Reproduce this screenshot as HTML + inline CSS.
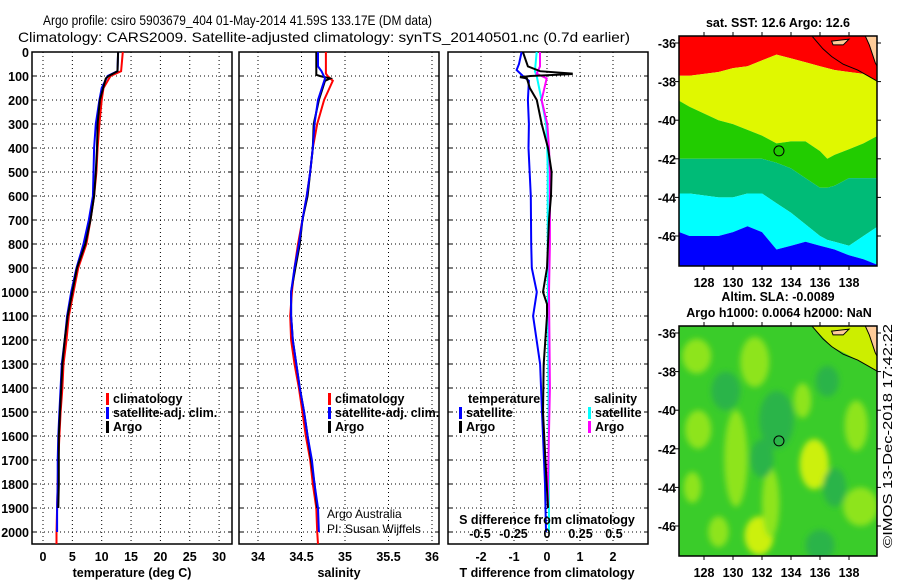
<!DOCTYPE html>
<html><head><meta charset="utf-8"><style>
html,body{margin:0;padding:0;background:#fff;}
svg{display:block;font-family:"Liberation Sans",sans-serif;}
.b{font-weight:bold;font-size:12.5px;}
</style></head><body>
<svg id="chart" width="900" height="580" viewBox="0 0 900 580" xmlns="http://www.w3.org/2000/svg">
<text x="43" y="25" font-size="14" textLength="389" lengthAdjust="spacingAndGlyphs">Argo profile: csiro 5903679_404 01-May-2014 41.59S 133.17E (DM data)</text>
<text x="18" y="42" font-size="14" textLength="612" lengthAdjust="spacingAndGlyphs">Climatology: CARS2009. Satellite-adjusted climatology: synTS_20140501.nc (0.7d earlier)</text>
<g id="panels"></g>
<g id="maps"></g>
<text transform="translate(892,548) rotate(-90)" font-size="12.5" textLength="224" lengthAdjust="spacingAndGlyphs">©IMOS 13-Dec-2018 17:42:22</text>
</svg>
<script>
// ---- data ----
const depthGrid = [0,100,200,300,400,500,600,700,800,900,1000,1100,1200,1300,1400,1500,1600,1700,1800,1900,2000];
const tempTicks = [0,5,10,15,20,25,30];
const salTicks = [34,34.5,35,35.5,36];
const salTickLabels = ["34","34.5","35","35.5","36"];
const tdiffTicks = [-2,-1,0,1,2];
const sdiffTickLabels = ["-0.5","-0.25","0","0.25","0.5"];
const sdiffTicks = [-0.5,-0.25,0,0.25,0.5];

const tClimDepth = [0,80,100,150,200,300,400,500,600,700,800,900,1000,1100,1200,1300,1400,1500,1600,1700,1800,1900,2000,2050];
const tClim = [13.6,13.3,11.5,10.3,10.0,9.6,9.3,9.1,8.7,8.1,7.4,6.0,5.2,4.4,4.0,3.5,3.3,3.0,2.8,2.6,2.5,2.4,2.3,2.3];
const tSatDepth = [0,80,100,150,200,300,400,500,600,700,800,900,1000,1100,1200,1300,1400,1500,1600,1700,1800,1900,2000];
const tSat = [12.8,12.7,11.0,10.0,9.6,9.0,8.7,8.6,8.5,7.8,6.9,5.7,4.8,4.1,3.7,3.2,3.0,2.8,2.6,2.5,2.5,2.4,2.4];
const tArgoDepth = [0,80,100,110,200,300,400,500,600,700,800,900,1000,1100,1200,1300,1400,1500,1600,1700,1800,1900];
const tArgo = [12.8,12.7,11.2,10.7,9.7,9.3,9.2,9.0,8.7,8.1,7.2,5.8,5.0,4.2,3.7,3.3,3.1,2.9,2.7,2.7,2.7,2.6];

const sClimDepth = [0,90,100,120,200,300,400,500,600,700,800,900,1000,1100,1200,1300,1400,1500,1600,1700,1800,1900,2000,2050];
const sClim = [34.78,34.78,34.80,34.86,34.76,34.68,34.63,34.60,34.56,34.51,34.46,34.42,34.39,34.37,34.38,34.42,34.47,34.51,34.55,34.60,34.63,34.67,34.68,34.69];
const sSatDepth = [0,60,80,110,200,300,400,500,600,700,800,900,1000,1100,1200,1300,1400,1500,1600,1700,1800,1900,2000];
const sSat = [34.69,34.69,34.73,34.77,34.69,34.65,34.63,34.60,34.56,34.51,34.47,34.42,34.38,34.38,34.40,34.44,34.48,34.53,34.57,34.62,34.65,34.69,34.70];
const sArgoDepth = [0,80,95,100,110,120,200,300,400,500,600,700,800,900,1000,1100,1200,1300,1400,1500,1600,1700,1800,1900];
const sArgo = [34.67,34.67,34.67,34.71,34.83,34.77,34.70,34.64,34.63,34.60,34.57,34.51,34.48,34.43,34.38,34.38,34.40,34.44,34.48,34.53,34.57,34.61,34.65,34.68];

const dTSatDepth = [0,50,75,100,120,200,300,400,600,800,900,1000,1100,1300,1500,1800,2000];
const dTSat = [-0.77,-0.85,-0.92,-0.73,-0.55,-0.58,-0.55,-0.56,-0.49,-0.48,-0.46,-0.31,-0.42,-0.21,-0.15,-0.06,-0.03];
const dTArgoDepth = [0,60,80,90,92,100,105,110,150,200,300,400,500,600,700,800,900,1000,1050,1100,1300,1500,1700,1900];
const dTArgo = [-0.73,-0.58,-0.21,0.75,0.75,-0.5,-0.82,-0.61,-0.52,-0.31,-0.16,0.03,0.14,0.12,0.06,0.03,0.0,-0.12,0.0,0.0,-0.1,-0.12,-0.05,0.03];
const dSSatDepth = [0,80,100,200,300,400,500,800,1000,1500,2000];
const dSSat = [-0.077,-0.09,-0.077,-0.04,-0.007,0.002,0.005,0.005,0.007,0.011,0.015];
const dSArgoDepth = [0,60,90,110,200,300,400,500,600,800,1000,1400,1800,1900];
const dSArgo = [-0.052,-0.052,-0.077,-0.002,-0.04,0.002,0.015,0.022,0.022,0.022,0.015,0.022,0.007,0.007];

// SST map band boundaries (lat) along longitude
const bandLon = [126.3,127,129,130,131,132,133,134,135,136,136.5,137,138,139,140];
const redYellow = [-37.7,-37.7,-37.5,-37.3,-37.2,-36.9,-36.6,-36.8,-37.0,-37.2,-37.3,-37.4,-37.5,-37.6,-38.0];
const yellowGreen = [-39.0,-39.3,-40.0,-40.2,-40.5,-40.8,-41.2,-41.1,-41.1,-41.6,-42.0,-41.8,-41.5,-41.2,-40.8];
const greenTeal = [-42.0,-42.0,-42.0,-42.0,-42.0,-42.0,-42.2,-42.5,-43.0,-43.5,-43.5,-43.4,-43.0,-43.0,-43.0];
const tealCyan = [-43.8,-43.8,-44.0,-44.0,-43.8,-43.8,-44.3,-44.8,-45.4,-46.0,-46.2,-46.3,-46.5,-46.0,-45.5];
const cyanBlue = [-45.8,-46.0,-46.0,-45.8,-45.5,-45.8,-46.7,-46.5,-46.3,-46.5,-46.6,-46.7,-47.0,-47.2,-47.5];
const bandColors = ["#ff0000","#e0f800","#22cc00","#00bb77","#00ffff","#0000ff"];
// SLA blobs: lon, lat, rx(deg), ry(deg), kind
const slaLon = [127.5,131.5,135.6,127.6,130.2,134.8,138.5,131.8,138.8,129.0,132.6,127.2,136.5,133.0,132.0,129.5,137.0,136.0];
const slaLat = [-37.2,-37.5,-42.8,-41.0,-42.5,-39.5,-40.8,-46.5,-45.0,-46.3,-44.8,-44.0,-38.5,-40.5,-42.5,-39.0,-44.0,-47.0];
const slaRx = [1.0,1.0,1.0,0.9,0.8,0.6,0.8,1.0,1.2,0.7,0.6,0.6,0.8,1.2,0.8,1.0,0.8,1.0];
const slaRy = [0.9,1.3,1.3,1.0,2.5,0.9,1.3,1.0,1.0,0.8,1.8,0.8,0.8,1.5,1.0,1.0,1.0,0.8];
const slaKind = [1,1,2,1,1,1,1,2,1,1,1,1,0,0,0,0,0,0];
const argoLon = 133.17, argoLat = -41.59;
const mapLatTicks = [-36,-38,-40,-42,-44,-46];
const mapLonTicks = [128,130,132,134,136,138];

// ---- scales ----
const NS="http://www.w3.org/2000/svg";
const yD = d => 52 + d*0.24;
const xT = t => 43 + t*5.87;
const xS = s => 258 + (s-34)*87;
const xDT = d => 547 + d*33;
const xDS = s => 547 + s*134;
const mx = lon => 704 + (lon-128)*14.5;
const myTop = lat => 43 + (-36-lat)*19.3;
const myBot = lat => 333 + (-36-lat)*19.3;

function mk(tag, attrs, parent){const e=document.createElementNS(NS,tag);for(const k in attrs)e.setAttribute(k,attrs[k]);parent.appendChild(e);return e;}
function txt(parent,x,y,s,opts){const e=mk('text',Object.assign({x:x,y:y},opts||{}),parent);e.textContent=s;return e;}
const P=document.getElementById('panels');

function panel(name,x0,x1,ticks,labels,xf){
  const g=mk('g',{},P);
  
  
  depthGrid.forEach(d=>{const l=mk('line',{x1:x0,x2:x1,y1:yD(d),y2:yD(d),stroke:'#000','stroke-width':1,'stroke-dasharray':'1,3'},g);
    
    
    mk('line',{x1:x0,x2:x0+4,y1:yD(d),y2:yD(d),stroke:'#000'},g);mk('line',{x1:x1-4,x2:x1,y1:yD(d),y2:yD(d),stroke:'#000'},g);});
  ticks.forEach((t,i)=>{const X=xf(t);const l=mk('line',{x1:X,x2:X,y1:52,y2:544,stroke:'#000','stroke-width':1,'stroke-dasharray':'1,3'},g);
    
    
    if(labels){const t2=txt(g,X,561,labels[i],{'text-anchor':'middle',class:'b'});
      
      }});
  const r=mk('rect',{x:x0,y:52,width:x1-x0,height:492,fill:'none',stroke:'#000','stroke-width':1.5},g);
  
  
  return g;
}
function line(g,depths,vals,xf,color,name,w){
  let d='';depths.forEach((z,i)=>{d+=(i?'L':'M')+xf(vals[i]).toFixed(1)+','+yD(z).toFixed(1);});
  const p=mk('path',{d:d,fill:'none',stroke:color,'stroke-width':w||2},g);
  
  
}
function legend(g,x,y,color,label,name){
  const m=mk('rect',{x:x,y:y-10,width:3,height:12,fill:color},g);
  
  
  const t=txt(g,x+7,y,label,{class:'b'});
  
  
}

// Panel 1
const g1=panel('temperature-panel',32,232,tempTicks,tempTicks.map(String),xT);
depthGrid.forEach(d=>{const t=txt(g1,29,yD(d)+5,String(d),{'text-anchor':'end',class:'b'});
  
  });
line(g1,tClimDepth,tClim,xT,'#ff0000','temp-climatology-line');
line(g1,tSatDepth,tSat,xT,'#0000ff','temp-satellite-line');
line(g1,tArgoDepth,tArgo,xT,'#000','temp-argo-line');
legend(g1,106,403,'#ff0000','climatology','legend-climatology');
legend(g1,106,417,'#0000ff','satellite-adj. clim.','legend-satellite');
legend(g1,106,431,'#000','Argo','legend-argo');
let at=txt(g1,132,577,'temperature (deg C)',{'text-anchor':'middle',class:'b'});



// Panel 2
const g2=panel('salinity-panel',239,439,salTicks,salTickLabels,xS);
line(g2,sClimDepth,sClim,xS,'#ff0000','sal-climatology-line');
line(g2,sArgoDepth,sArgo,xS,'#000','sal-argo-line');
line(g2,sSatDepth,sSat,xS,'#0000ff','sal-satellite-line');
legend(g2,328,403,'#ff0000','climatology','legend-climatology');
legend(g2,328,417,'#0000ff','satellite-adj. clim.','legend-satellite');
legend(g2,328,431,'#000','Argo','legend-argo');
let c1=txt(g2,327,518,'Argo Australia',{'font-size':12});

let c2=txt(g2,327,533,'PI: Susan Wijffels',{'font-size':12});

at=txt(g2,339,577,'salinity',{'text-anchor':'middle',class:'b'});



// Panel 3
const g3=panel('difference-panel',448,648,tdiffTicks,tdiffTicks.map(String),xDT);
line(g3,dTSatDepth,dTSat,xDT,'#0000ff','tdiff-satellite-line');
line(g3,dSSatDepth,dSSat,xDS,'#00ffff','sdiff-satellite-line');
line(g3,dSArgoDepth,dSArgo,xDS,'#ff00ff','sdiff-argo-line');
line(g3,dTArgoDepth,dTArgo,xDT,'#000','tdiff-argo-line');
let lt=txt(g3,468,403,'temperature',{class:'b'});

legend(g3,459,417,'#0000ff','satellite','legend-t-satellite');
legend(g3,459,431,'#000','Argo','legend-t-argo');
lt=txt(g3,594,403,'salinity',{class:'b'});

legend(g3,588,417,'#00ffff','satellite','legend-s-satellite');
legend(g3,588,431,'#ff00ff','Argo','legend-s-argo');
lt=txt(g3,547,524,'S difference from climatology',{'text-anchor':'middle',class:'b'});

sdiffTicks.forEach((s,i)=>{const t=txt(g3,xDS(s),538,sdiffTickLabels[i],{'text-anchor':'middle',class:'b'});
  
  });
at=txt(g3,547,577,'T difference from climatology',{'text-anchor':'middle',class:'b'});



// ---- maps ----
const M=document.getElementById('maps');
const defs=mk('defs',{},M);
const cp1=mk('clipPath',{id:'clipTop'},defs);mk('rect',{x:679,y:36,width:198,height:230},cp1);
const cp2=mk('clipPath',{id:'clipBot'},defs);mk('rect',{x:679,y:326,width:198,height:230},cp2);
const bf=mk('filter',{id:'blur',x:'-20%',y:'-20%',width:'140%',height:'140%'},defs);mk('feGaussianBlur',{stdDeviation:3},bf);

function mapFrame(name){
  const g=mk('g',{},M);
  
  
  return g;
}
function mapAxes(g,y0,myf){
  const r=mk('rect',{x:679,y:y0,width:198,height:230,fill:'none',stroke:'#000','stroke-width':1.5},g);
  
  
  mapLatTicks.forEach(l=>{const Y=myf(l);mk('line',{x1:679,x2:675,y1:Y,y2:Y,stroke:'#000'},g);mk('line',{x1:877,x2:881,y1:Y,y2:Y,stroke:'#000'},g);
    const t=txt(g,676,Y+5,String(l),{'text-anchor':'end',class:'b'});
    
    });
  mapLonTicks.forEach(l=>{const X=mx(l);mk('line',{x1:X,x2:X,y1:y0+230,y2:y0+234,stroke:'#000'},g);mk('line',{x1:X,x2:X,y1:y0,y2:y0-4,stroke:'#000'},g);
    const t=txt(g,X,y0+251,String(l),{'text-anchor':'middle',class:'b'});
    
    });
  const c=mk('circle',{cx:mx(argoLon),cy:myf(argoLat),r:5,fill:'none',stroke:'#000','stroke-width':1},g);
  
  
}
function coast(g,myf,landColor){
  const pts=[[135.4,-35.6],[136.2,-36.3],[136.8,-36.7],[137.6,-37.1],[138.6,-37.4],[139.3,-37.7],[140.0,-38.0]];
  const land=mk('path',{d:'M'+mx(139.1)+','+myf(-35.6)+' L'+mx(139.4)+','+myf(-36.1)+' L'+mx(139.8)+','+myf(-37.0)+' L'+mx(140)+','+myf(-37.3)+' L'+mx(140)+','+myf(-35.6)+'Z M'+mx(136.8)+','+myf(-35.9)+' L'+mx(138.0)+','+myf(-35.8)+' L'+mx(137.6)+','+myf(-36.1)+' L'+mx(136.9)+','+myf(-36.1)+'Z',fill:landColor,stroke:'#000','stroke-width':1},g);
  
  
  const cl=mk('polyline',{points:pts.map(p=>mx(p[0])+','+myf(p[1])).join(' '),fill:'none',stroke:'#000','stroke-width':1},g);
  
  
}

// SST map
const gm1=mapFrame('sst-map');
const gb=mk('g',{'clip-path':'url(#clipTop)'},gm1);
const bounds=[null,redYellow,yellowGreen,greenTeal,tealCyan,cyanBlue,null];
for(let b=0;b<6;b++){
  const top=bounds[b], bot=bounds[b+1];
  let d='';
  bandLon.forEach((lo,i)=>{d+=(i?'L':'M')+mx(lo).toFixed(1)+','+(top?myTop(top[i]):30).toFixed(1);});
  for(let i=bandLon.length-1;i>=0;i--){d+='L'+mx(bandLon[i]).toFixed(1)+','+(bot?myTop(bot[i]):275).toFixed(1);}
  const p=mk('path',{d:d+'Z',fill:bandColors[b],stroke:'none'},gb);
  
  
}
coast(gb,myTop,'#ffcc99');
mapAxes(gm1,36,myTop);
let mt=txt(gm1,778,27,'sat. SST: 12.6 Argo: 12.6',{'text-anchor':'middle',class:'b'});


// SLA map
const gm2=mapFrame('sla-map');
const gs=mk('g',{'clip-path':'url(#clipBot)'},gm2);
const bg=mk('rect',{x:679,y:326,width:198,height:230,fill:'#3acc2a'},gs);

const blobG=mk('g',{filter:'url(#blur)'},gs);
const slaCols=['#2cb448','#8ee41e','#ccf010'];
slaLon.forEach((lo,i)=>{const e=mk('ellipse',{cx:mx(lo),cy:myBot(slaLat[i]),rx:slaRx[i]*14.5,ry:slaRy[i]*19.3,fill:slaCols[slaKind[i]]},blobG);
  
  });
const ne=mk('path',{d:'M'+mx(135.4)+','+myBot(-35.6)+' L'+mx(136.8)+','+myBot(-36.7)+' L'+mx(138.6)+','+myBot(-37.4)+' L'+mx(140)+','+myBot(-38)+' L'+mx(140)+','+myBot(-35.6)+'Z',fill:'#ccee00'},gs);

coast(gs,myBot,'#ffcc99');
mapAxes(gm2,326,myBot);
mt=txt(gm2,778,301,'Altim. SLA: -0.0089',{'text-anchor':'middle',class:'b'});

mt=txt(gm2,779,317,'Argo h1000: 0.0064 h2000: NaN',{'text-anchor':'middle',class:'b'});

</script>
</body></html>
